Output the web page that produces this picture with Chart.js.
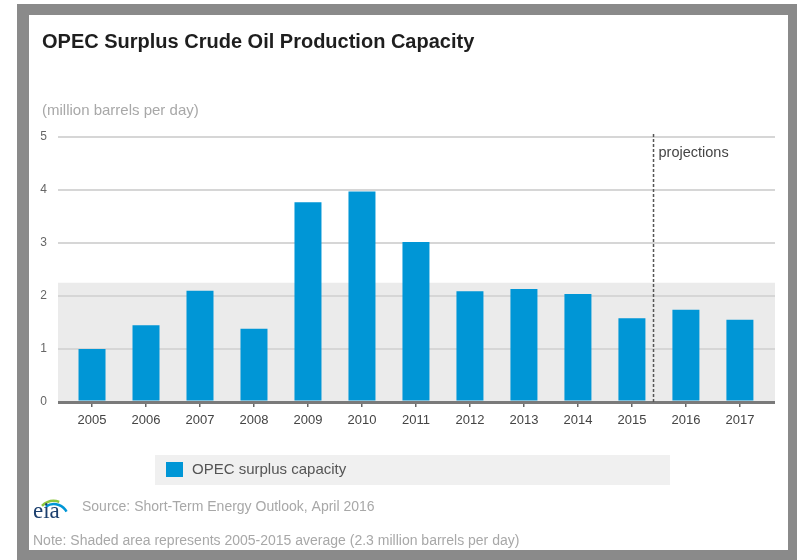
<!DOCTYPE html>
<html>
<head>
<meta charset="utf-8">
<script src="https://cdn.jsdelivr.net/npm/chart.js@4"></script>
<style>
  body { margin: 0; background: #fff; }
  #wrap { width: 797px; height: 560px; position: relative; }
</style>
</head>
<body>
<div id="wrap"><canvas id="chart-area1" width="797" height="560"></canvas></div>
<script>
// chart values
var years = ['2005', '2006', '2007', '2008', '2009', '2010', '2011', '2012', '2013', '2014', '2015', '2016', '2017'];
var surplus = [1.0, 1.45, 2.1, 1.38, 3.77, 3.97, 3.02, 2.09, 2.13, 2.04, 1.58, 1.74, 1.55];
var yTicks = [0, 1, 2, 3, 4, 5];
var shadedAvg = 2.25;        // 2005-2015 average band
var projectionStart = 10.4;  // dashed line just after 2015

var FONT = '"Liberation Sans", Arial, sans-serif';

var framePlugin = {
    id: 'frame',
    beforeDraw: function (chart) {
        var ctx = chart.ctx;
        var x = chart.scales.x, y = chart.scales.y;
        ctx.save();
        // outer grey frame + white inside
        ctx.fillStyle = '#8a8a8a';
        ctx.fillRect(17, 4, 780, 556);
        ctx.fillStyle = '#ffffff';
        ctx.fillRect(29, 15, 759, 535);
        // shaded average band
        ctx.fillStyle = '#ebebeb';
        var top = y.getPixelForValue(shadedAvg), bot = y.getPixelForValue(0);
        ctx.fillRect(x.left, top, x.right - x.left, bot - top);
        ctx.restore();
    },
    afterDatasetsDraw: function (chart) {
        var ctx = chart.ctx;
        var x = chart.scales.x, y = chart.scales.y;
        var px = x.getPixelForValue(projectionStart);
        ctx.save();
        ctx.strokeStyle = '#555';
        ctx.lineWidth = 1.5;
        ctx.setLineDash([3, 2]);
        ctx.beginPath();
        ctx.moveTo(px, y.getPixelForValue(5) - 3);
        ctx.lineTo(px, y.getPixelForValue(0));
        ctx.stroke();
        ctx.setLineDash([]);
        ctx.fillStyle = '#444';
        ctx.font = '14.5px ' + FONT;
        ctx.textAlign = 'left';
        ctx.textBaseline = 'middle';
        ctx.fillText('projections', px + 5, y.getPixelForValue(5) + 16);
        ctx.restore();
    },
    afterDraw: function (chart) {
        var ctx = chart.ctx;
        ctx.save();
        ctx.textAlign = 'left';
        ctx.textBaseline = 'alphabetic';
        // title
        ctx.fillStyle = '#1e1e1e';
        ctx.font = 'bold 20px ' + FONT;
        ctx.fillText('OPEC Surplus Crude Oil Production Capacity', 42, 48);
        // units
        ctx.fillStyle = '#a8a8a8';
        ctx.font = '15px ' + FONT;
        ctx.fillText('(million barrels per day)', 42, 115);

        // legend
        ctx.fillStyle = '#f0f0f0';
        ctx.fillRect(155, 455, 515, 30);
        ctx.fillStyle = '#0096d6';
        ctx.fillRect(166, 462, 17, 15);
        ctx.fillStyle = '#555';
        ctx.font = '15px ' + FONT;
        ctx.textBaseline = 'middle';
        ctx.fillText('OPEC surplus capacity', 192, 470);

        // eia logo
        ctx.lineWidth = 2.5;
        ctx.strokeStyle = '#8cc63f';
        ctx.beginPath();
        ctx.arc(54, 518, 17, Math.PI * 1.25, Math.PI * 1.6);
        ctx.stroke();
        ctx.strokeStyle = '#0096d6';
        ctx.beginPath();
        ctx.arc(54, 518, 14, Math.PI * 1.3, Math.PI * 1.85);
        ctx.stroke();
        ctx.fillStyle = '#1c3f6e';
        ctx.font = '23px "Liberation Serif", serif';
        ctx.textBaseline = 'alphabetic';
        ctx.fillText('eia', 33, 518);

        // source + note
        ctx.fillStyle = '#a8a8a8';
        ctx.font = '14px ' + FONT;
        ctx.fillText('Source: Short-Term Energy Outlook, April 2016', 82, 511);
        ctx.fillText('Note: Shaded area represents 2005-2015 average (2.3 million barrels per day)', 33, 545);
        ctx.restore();
    }
};

var barData = surplus.map(function (v, i) { return { x: i, y: v }; });

var config = {
    type: 'bar',
    data: {
        datasets: [{
            label: 'OPEC surplus capacity',
            data: barData,
            backgroundColor: '#0096d6',
            borderWidth: 0,
            barPercentage: 0.5,
            categoryPercentage: 1.0
        }]
    },
    options: {
        responsive: false,
        animation: false,
        events: [],
        layout: { padding: { left: 29, top: 137, right: 22, bottom: 128 } },
        plugins: {
            legend: { display: false },
            title: { display: false },
            tooltip: { enabled: false }
        },
        scales: {
            x: {
                type: 'linear',
                offset: false,
                min: -0.63,
                max: 12.65,
                afterBuildTicks: function (scale) {
                    scale.ticks = years.map(function (y, i) { return { value: i }; });
                },
                afterFit: function (scale) { scale.height = 30; },
                border: { display: false },
                grid: { offset: false, drawOnChartArea: false, drawTicks: true, tickLength: 5, tickColor: '#666', lineWidth: 1.5 },
                ticks: {
                    autoSkip: false,
                    maxRotation: 0,
                    padding: 6,
                    color: '#444',
                    font: { family: FONT, size: 13 },
                    callback: function (v) { return years[v]; }
                }
            },
            y: {
                min: 0,
                max: 5,
                afterBuildTicks: function (scale) {
                    scale.ticks = yTicks.map(function (v) { return { value: v }; });
                },
                afterFit: function (scale) { scale.width = 29; },
                border: { display: false },
                grid: {
                    drawTicks: false,
                    color: function (c) { return c.tick && c.tick.value === 0 ? '#7a7a7a' : '#d6d6d6'; },
                    lineWidth: function (c) { return c.tick && c.tick.value === 0 ? 3 : 2; }
                },
                ticks: {
                    padding: 11,
                    color: '#666',
                    font: { family: FONT, size: 12 }
                }
            }
        }
    },
    plugins: [framePlugin]
};

var ctx = document.getElementById('chart-area1').getContext('2d');
var myBar = new Chart(ctx, config);
</script>
</body>
</html>
